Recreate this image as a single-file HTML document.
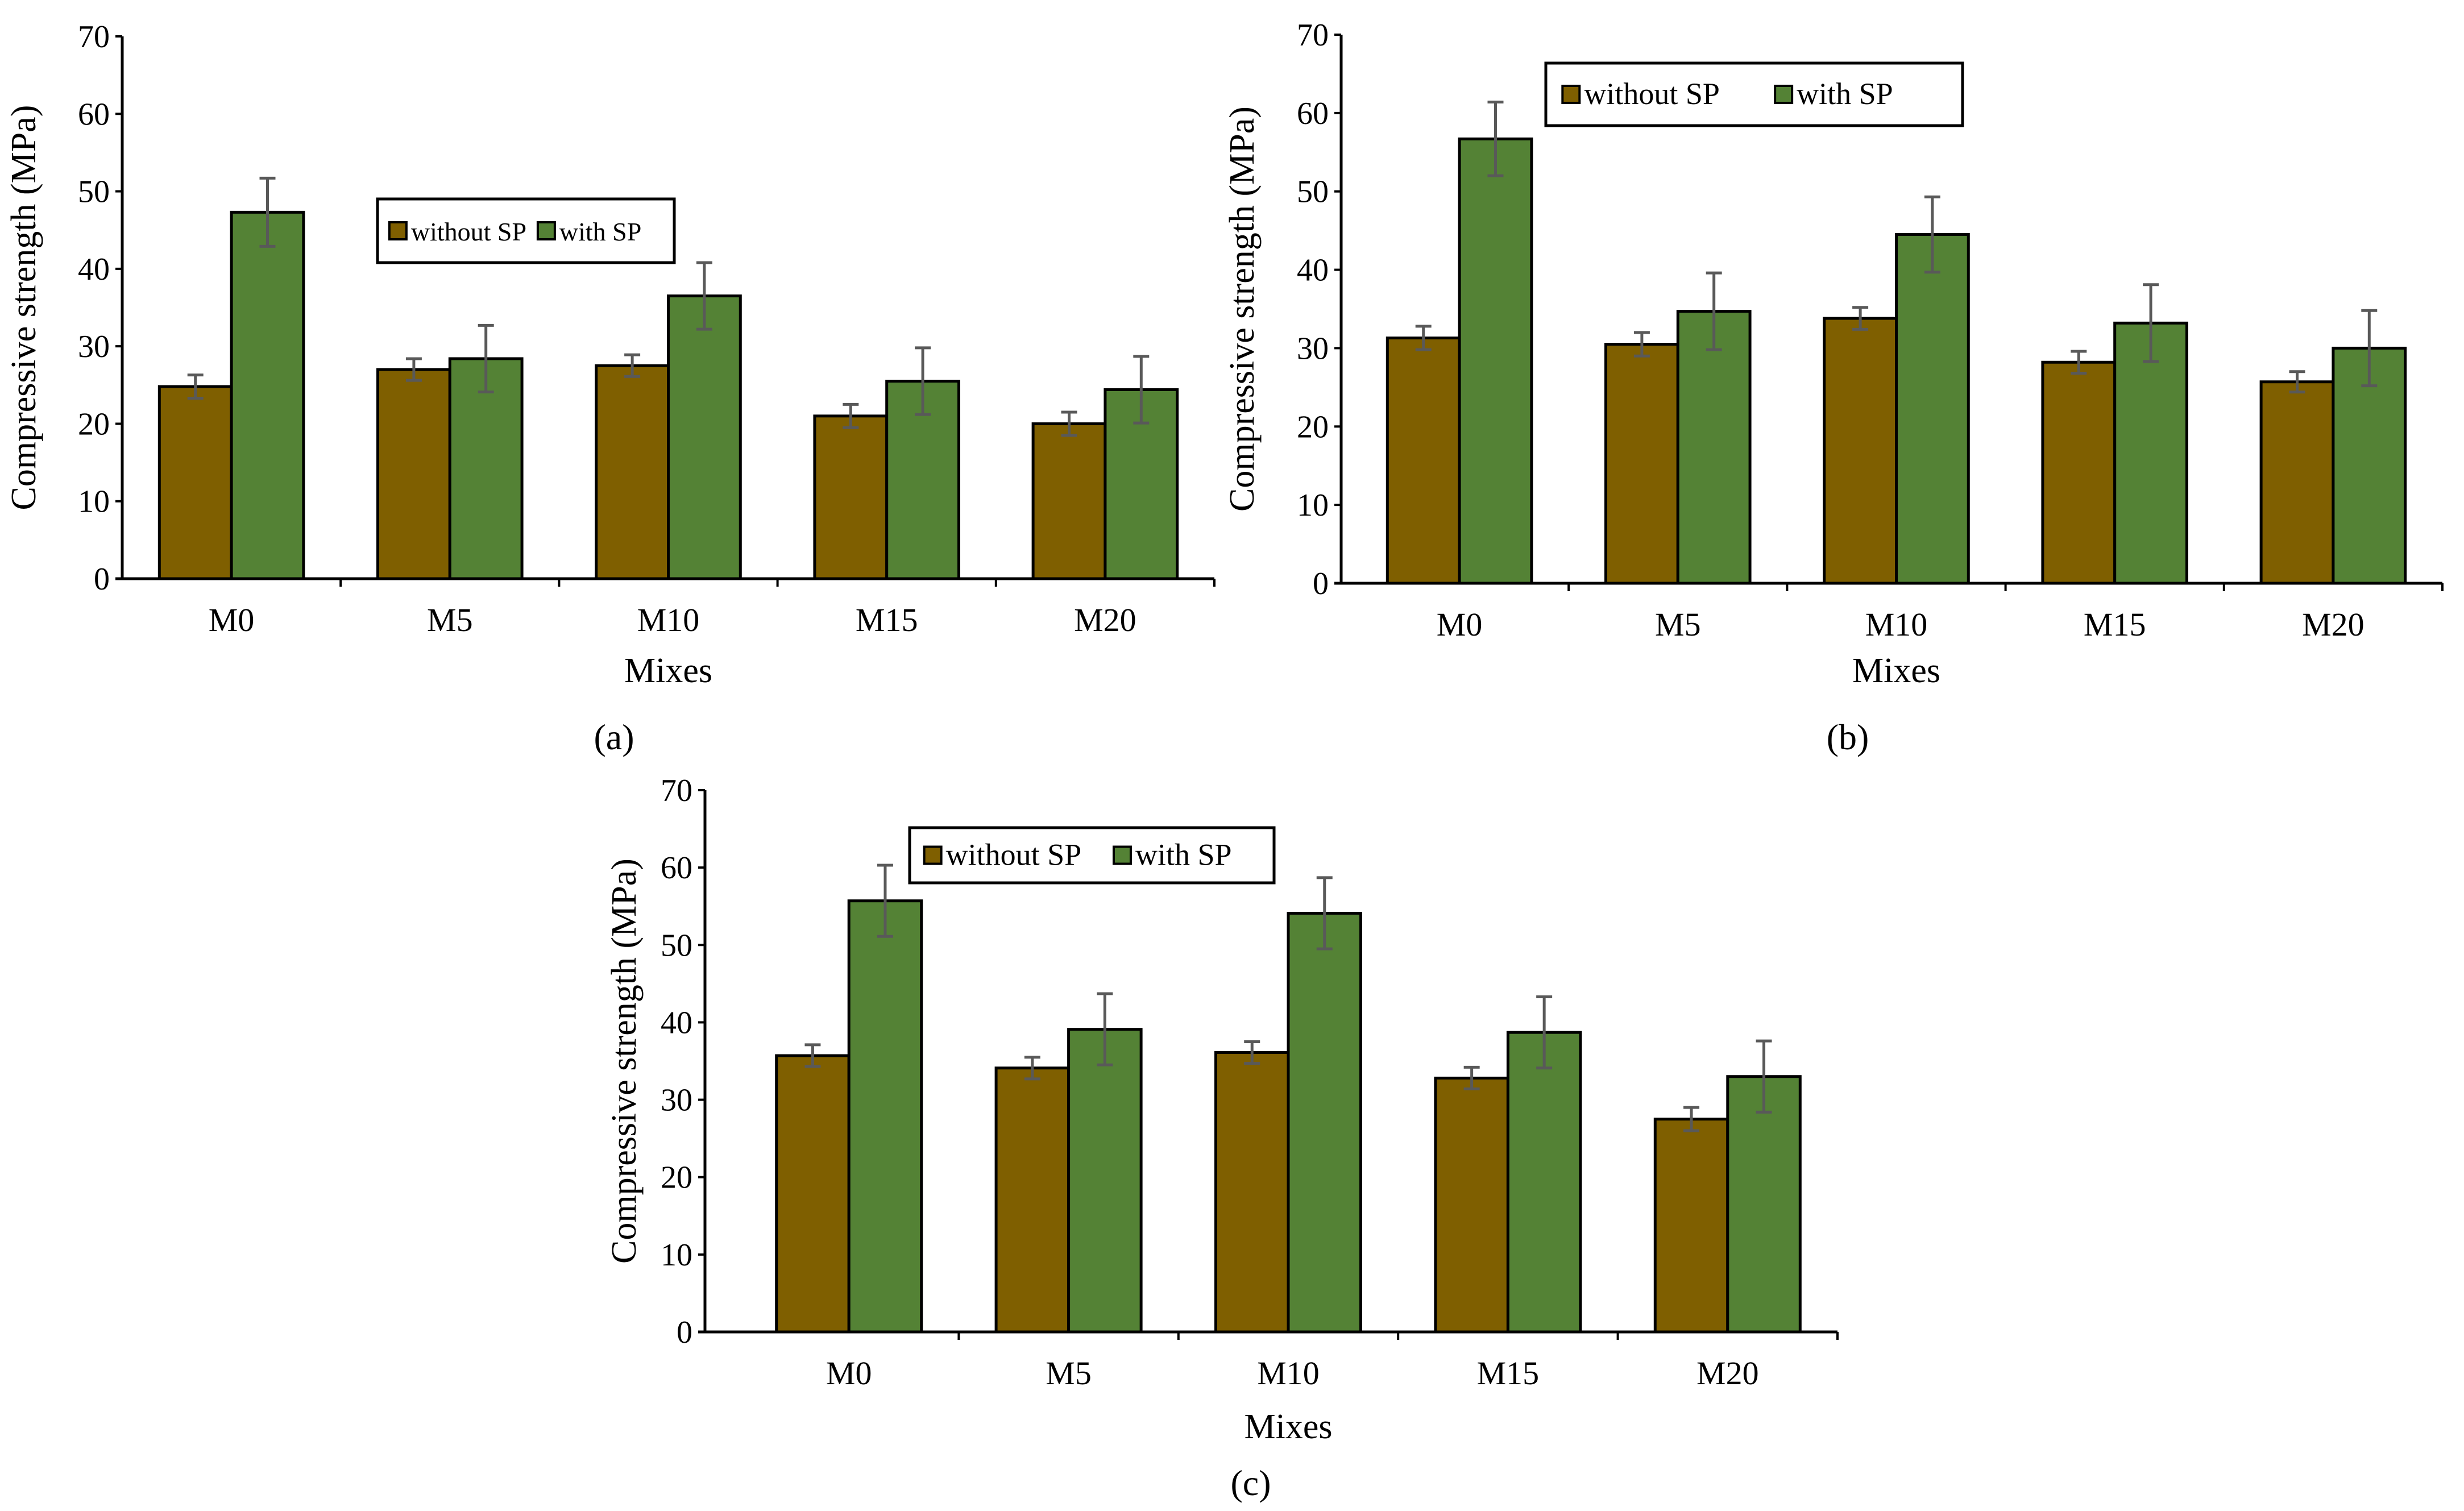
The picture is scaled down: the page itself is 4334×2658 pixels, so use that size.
<!DOCTYPE html>
<html><head><meta charset="utf-8">
<style>
html,body{margin:0;padding:0;background:#fff;}
svg{display:block;font-family:"Liberation Serif",serif;}
</style></head>
<body>
<svg id="fig" width="4334" height="2658" viewBox="0 0 4334 2658" xmlns="http://www.w3.org/2000/svg"></svg>
<script>
const categories = ["M0","M5","M10","M15","M20"];
const ticks = [0,10,20,30,40,50,60,70];
const aWithout = [24.8,27.0,27.5,21.0,20.0];
const aWith = [47.3,28.4,36.5,25.5,24.4];
const aErrWithout = [1.5,1.4,1.4,1.5,1.5];
const aErrWith = [4.4,4.3,4.3,4.3,4.3];
const bWithout = [31.3,30.5,33.8,28.2,25.7];
const bWith = [56.7,34.7,44.5,33.2,30.0];
const bErrWithout = [1.5,1.5,1.4,1.4,1.3];
const bErrWith = [4.7,4.9,4.8,4.9,4.8];
const cWithout = [35.7,34.1,36.1,32.8,27.5];
const cWith = [55.7,39.1,54.1,38.7,33.0];
const cErrWithout = [1.4,1.4,1.4,1.4,1.5];
const cErrWith = [4.6,4.6,4.6,4.6,4.6];

const NS="http://www.w3.org/2000/svg";
const svg=document.getElementById('fig');
function mk(tag,attrs,parent){const e=document.createElementNS(NS,tag);for(const k in attrs)e.setAttribute(k,attrs[k]);(parent||svg).appendChild(e);return e;}

function chart(id,cfg,wo,wi,ewo,ewi){
  const g=mk('g',{});
  
  
  const y=v=>cfg.y0-(cfg.y0-cfg.y70)*v/70;
  const ax=cfg.ax;
  const step=(cfg.xR-cfg.x0)/categories.length;
  const cx=i=>cfg.x0+step*(i+0.5);
  const bw=step*0.33;
  ticks.forEach(t=>{
    const tl=mk('text',{x:ax-22,y:y(t)+19,'text-anchor':'end','font-size':56,fill:'#000'},g);
    tl.textContent=t;
    
    
    mk('line',{x1:ax-12,x2:ax,y1:y(t),y2:y(t),stroke:'#000','stroke-width':4},g);
  });
  categories.forEach((c,i)=>{
    const b1=mk('rect',{x:cx(i)-bw,y:y(wo[i]),width:bw,height:y(0)-y(wo[i]),fill:'#7f5f00',stroke:'#000','stroke-width':5},g);
    
    
    const b2=mk('rect',{x:cx(i),y:y(wi[i]),width:bw,height:y(0)-y(wi[i]),fill:'#548235',stroke:'#000','stroke-width':5},g);
    
    
    [[cx(i)-bw/2,wo[i],ewo[i]],[cx(i)+bw/2,wi[i],ewi[i]]].forEach(([x,v,e])=>{
      const eb=mk('path',{d:`M${x} ${y(v-e)}V${y(v+e)}M${x-14} ${y(v-e)}H${x+14}M${x-14} ${y(v+e)}H${x+14}`,stroke:'#595959','stroke-width':5,fill:'none'},g);
      
      
    });
    mk('line',{x1:cfg.x0+step*(i+1),x2:cfg.x0+step*(i+1),y1:y(0),y2:y(0)+14,stroke:'#000','stroke-width':4},g);
    const xl=mk('text',{x:cx(i),y:y(0)+92,'text-anchor':'middle','font-size':58,fill:'#000'},g);
    xl.textContent=c;
    
    
  });
  mk('line',{x1:ax,x2:ax,y1:cfg.y70,y2:y(0),stroke:'#000','stroke-width':5},g);
  mk('line',{x1:ax-12,x2:cfg.xR,y1:y(0),y2:y(0),stroke:'#000','stroke-width':5},g);
  const xt=mk('text',{x:(cfg.x0+cfg.xR)/2,y:cfg.mixY,'text-anchor':'middle','font-size':62,fill:'#000'},g);
  xt.textContent='Mixes';
  
  
  const ym=(cfg.y70+y(0))/2;
  const yt=mk('text',{x:cfg.ytX,y:ym,'text-anchor':'middle','font-size':62,fill:'#000',transform:`rotate(-90 ${cfg.ytX} ${ym})`},g);
  yt.textContent='Compressive strength (MPa)';
  
  
  const L=cfg.leg;
  const lg=mk('g',{},g);
  
  
  mk('rect',{x:L[0],y:L[1],width:L[2]-L[0],height:L[3]-L[1],fill:'#fff',stroke:'#000','stroke-width':5},lg);
  const my=(L[1]+L[3])/2, sq=30, lw=L[2]-L[0];
  const items=[['without SP','#7f5f00',L[0]+lw*0.04],['with SP','#548235',L[0]+lw*cfg.leg2]];
  items.forEach(([t,col,x])=>{
    const s=mk('rect',{x:x,y:my-sq/2,width:sq,height:sq,fill:col,stroke:'#000','stroke-width':4},lg);
    
    
    const tx=mk('text',{x:x+sq+8,y:my+17,'font-size':cfg.legFs,fill:'#000'},lg);
    tx.textContent=t;
    
    
  });
  const cap=mk('text',{x:cfg.capX,y:cfg.capY,'text-anchor':'middle','font-size':64,fill:'#000'},g);
  cap.textContent='('+id+')';
  
  
}

chart('a',{ax:215,x0:215,xR:2136,y70:64,y0:1018,leg:[664,350,1186,462],legFs:46,leg2:0.54,mixY:1200,ytX:62,capX:1080,capY:1318},aWithout,aWith,aErrWithout,aErrWith);
chart('b',{ax:2359,x0:2375,xR:4296,y70:61,y0:1026,leg:[2719,111,3452,221],legFs:54,leg2:0.55,mixY:1200,ytX:2205,capX:3250,capY:1318},bWithout,bWith,bErrWithout,bErrWith);
chart('c',{ax:1240,x0:1300,xR:3232,y70:1390,y0:2343,leg:[1600,1456,2241,1553],legFs:54,leg2:0.56,mixY:2530,ytX:1118,capX:2200,capY:2630},cWithout,cWith,cErrWithout,cErrWith);
</script>
</body></html>
